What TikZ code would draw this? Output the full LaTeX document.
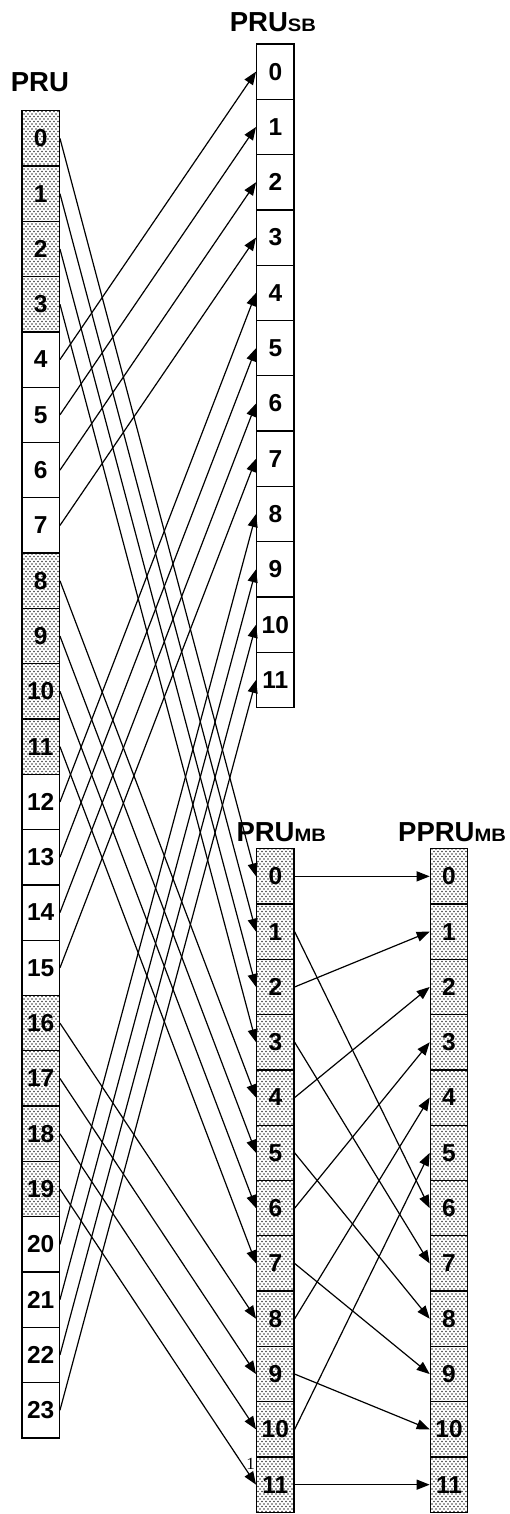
\documentclass[tikz,border=0pt]{standalone}
\usepackage{fontspec}
\setmainfont{Liberation Sans}
\newfontfamily\serifone{Liberation Serif}
\newfontfamily\subf[FakeStretch=1.12]{Liberation Sans}
\usetikzlibrary{arrows.meta,patterns}
\pgfdeclarepatternformonly{stipple}{\pgfqpoint{-1pt}{-1pt}}{\pgfqpoint{4pt}{4pt}}{\pgfqpoint{4pt}{5pt}}{%
  \pgfpathcircle{\pgfqpoint{0pt}{0pt}}{0.8pt}%
  \pgfpathcircle{\pgfqpoint{2pt}{2.5pt}}{0.8pt}%
  \pgfusepath{fill}}
\tikzset{
  cell/.style={draw, line width=1.3pt, minimum width=37.3pt, minimum height=55.3pt, inner sep=0pt,
    font=\fontsize{24.5}{25}\selectfont\bfseries},
  plain/.style={fill=white},
  shaded/.style={pattern=stipple, pattern color=black!75},
  link/.style={line width=1.2pt, -{Triangle[length=13pt,width=10pt]}},
  title/.style={anchor=base west, inner sep=0pt, font=\fontsize{27.5}{28}\selectfont\bfseries},
}
\newcommand{\subtxt}[1]{{\subf\bfseries\fontsize{18}{18}\selectfont #1}}
\begin{document}
\begin{tikzpicture}[x=1pt,y=1pt]
\useasboundingbox (0,0) rectangle (509,-1514);
% titles
\node[title] (tpru) at (10.7,-91.7) {PRU};
\node[title] (tsb) at (229.7,-31.7) {PRU\subtxt{SB}};
\node[title] (tmb) at (236.3,-841.7) {PRU\subtxt{MB}};
\node[title] (tpp) at (398,-841.7) {PPRU\subtxt{MB}};
% PRU column
\foreach \i in {0,...,23} {
  \pgfmathtruncatemacro\g{mod(floor(\i/4),2)}
  \ifnum\g=0 \def\sty{shaded}\else\def\sty{plain}\fi
  \node[cell,\sty] (pru\i) at (40.65,{-(138.35+55.3*\i)}) {\i};
}
% PRU_SB column
\foreach \i in {0,...,11} {
  \node[cell,plain] (sb\i) at (275.35,{-(71.65+55.3*\i)}) {\i};
}
% PRU_MB and PPRU_MB columns
\foreach \i in {0,...,11} {
  \node[cell,shaded] (mb\i) at (275.35,{-(876.35+55.3*\i)}) {\i};
  \node[cell,shaded] (pp\i) at (449,{-(876.35+55.3*\i)}) {\i};
}
% PRU -> PRU_SB
\foreach \k in {0,...,3} {
  \pgfmathtruncatemacro\a{4+\k}
  \pgfmathtruncatemacro\b{12+\k}
  \pgfmathtruncatemacro\c{4+\k}
  \pgfmathtruncatemacro\d{20+\k}
  \pgfmathtruncatemacro\e{8+\k}
  \draw[link] (pru\a.east) -- (sb\k.west);
  \draw[link] (pru\b.east) -- (sb\c.west);
  \draw[link] (pru\d.east) -- (sb\e.west);
}
% PRU -> PRU_MB
\foreach \k in {0,...,3} {
  \pgfmathtruncatemacro\a{8+\k}
  \pgfmathtruncatemacro\b{4+\k}
  \pgfmathtruncatemacro\c{16+\k}
  \pgfmathtruncatemacro\d{8+\k}
  \draw[link] (pru\k.east) -- (mb\k.west);
  \draw[link] (pru\a.east) -- (mb\b.west);
  \draw[link] (pru\c.east) -- (mb\d.west);
}
% PRU_MB -> PPRU_MB
\foreach \j in {0,...,5} {
  \pgfmathtruncatemacro\a{2*\j}
  \pgfmathtruncatemacro\b{2*\j+1}
  \pgfmathtruncatemacro\c{6+\j}
  \draw[link] (mb\a.east) -- (pp\j.west);
  \draw[link] (mb\b.east) -- (pp\c.west);
}
% stray mark
\node[anchor=base, inner sep=0pt, font=\serifone\fontsize{17}{17}\selectfont] (mark) at (250.5,-1469.3) {1};
\end{tikzpicture}
\end{document}
